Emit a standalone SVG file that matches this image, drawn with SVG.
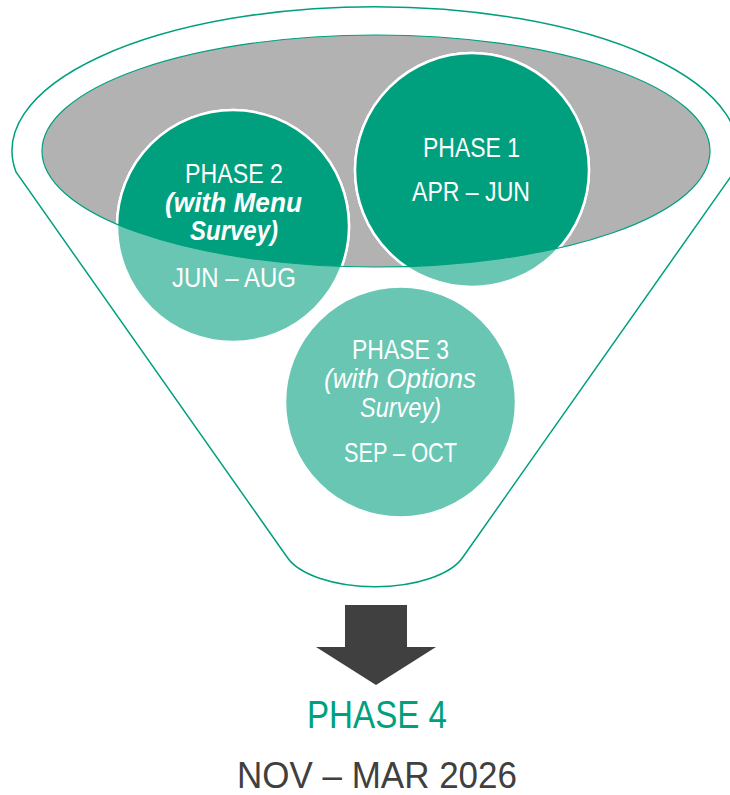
<svg xmlns="http://www.w3.org/2000/svg" width="730" height="795" viewBox="0 0 730 795">
<style>
.outline{fill:#ffffff;stroke:#00A07E;stroke-width:1.5}
.bowl{fill:#B2B2B2}
.bowlEdge{fill:none;stroke:#00A07E;stroke-width:1.2}
.light{fill:#68C6B2;stroke:#ffffff;stroke-width:2.5}
.dark{fill:#00A07E;stroke:#ffffff;stroke-width:2.5}
text{font-family:"Liberation Sans Narrow","Liberation Sans",Arial,sans-serif;text-anchor:middle}
.t{fill:#ffffff;font-size:28px}
.d{fill:#ffffff;font-size:28px}
.bi{fill:#ffffff;font-size:27px;font-style:italic;font-weight:bold}
.li{fill:#ffffff;font-size:27px;font-style:italic}
.p4{fill:#00A07E;font-size:39px}
.nov{fill:#404040;font-size:37px}
</style>
<defs>
<clipPath id="bowlClip"><ellipse cx="376" cy="151" rx="334" ry="116"/></clipPath>
</defs>
<g id="funnel">
<path class="outline" d="M 16 172 A 363 144 0 1 1 734 172 L 463 557 A 92 42 0 0 1 287 557 Z"/>
<ellipse class="bowl" cx="376" cy="151" rx="334" ry="116"/>
</g>
<g id="phase2">
<circle class="light" cx="233" cy="226" r="116"/>
<circle class="dark" cx="233" cy="226" r="116" clip-path="url(#bowlClip)"/>
</g>
<g id="phase1">
<circle class="light" cx="472" cy="170" r="117"/>
<circle class="dark" cx="472" cy="170" r="117" clip-path="url(#bowlClip)"/>
</g>
<ellipse class="bowlEdge" cx="376" cy="151" rx="334" ry="116"/>
<g id="phase1-text">
<text class="t" x="471.5" y="157" textLength="97" lengthAdjust="spacingAndGlyphs">PHASE 1</text>
<text class="d" x="471" y="201" textLength="118" lengthAdjust="spacingAndGlyphs">APR – JUN</text>
</g>
<g id="phase2-text">
<text class="t" x="234" y="183" textLength="98" lengthAdjust="spacingAndGlyphs">PHASE 2</text>
<text class="bi" x="233.5" y="212" textLength="137" lengthAdjust="spacingAndGlyphs">(with Menu</text>
<text class="bi" x="234" y="240" textLength="88" lengthAdjust="spacingAndGlyphs">Survey)</text>
<text class="d" x="234" y="287" textLength="124" lengthAdjust="spacingAndGlyphs">JUN – AUG</text>
</g>
<g id="phase3">
<circle class="light" cx="400.5" cy="402" r="115.5" stroke="none"/>
<text class="t" x="400.5" y="359" textLength="97" lengthAdjust="spacingAndGlyphs">PHASE 3</text>
<text class="li" x="400" y="388" textLength="152" lengthAdjust="spacingAndGlyphs">(with Options</text>
<text class="li" x="400.5" y="417" textLength="81" lengthAdjust="spacingAndGlyphs">Survey)</text>
<text class="d" x="400.5" y="462" textLength="113" lengthAdjust="spacingAndGlyphs">SEP – OCT</text>
</g>
<g id="connectors">
<path d="M 345 605 L 407 605 L 407 647 L 436 647 L 376 685 L 316 647 L 345 647 Z" fill="#404040"/>
</g>
<g id="phase4">
<text class="p4" x="377" y="728" textLength="140" lengthAdjust="spacingAndGlyphs">PHASE 4</text>
<text class="nov" x="377" y="788" textLength="280" lengthAdjust="spacingAndGlyphs">NOV – MAR 2026</text>
</g>
</svg>
